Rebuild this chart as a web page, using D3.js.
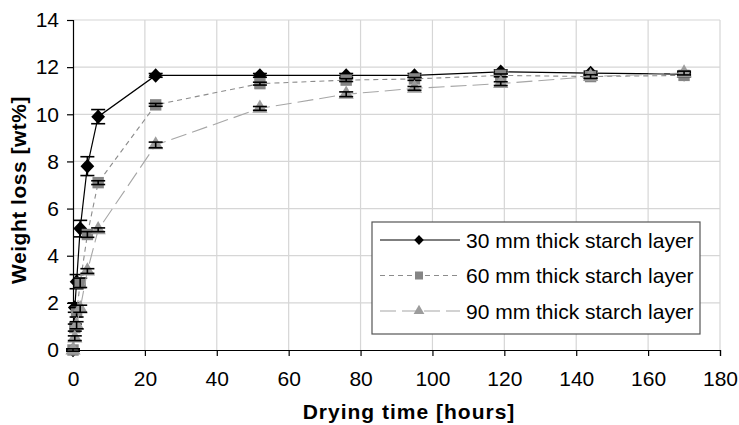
<!DOCTYPE html>
<html>
<head>
<meta charset="utf-8">
<script src="https://cdn.jsdelivr.net/npm/d3@7"></script>
<style>
  html, body { margin: 0; padding: 0; background: #fff; }
  svg { display: block; }
  text { font-family: "Liberation Sans", Arial, sans-serif; }
</style>
</head>
<body>
<svg id="chart" width="739" height="425"></svg>
<script>
// ---- data ----
const times = [0, 0.5, 1, 2, 4, 7, 23, 52, 76, 95, 119, 144, 170];
const series30 = [0, 1.8, 2.9, 5.15, 7.8, 9.9, 11.65, 11.65, 11.65, 11.65, 11.8, 11.75, 11.7];
const series60 = [0, 0.95, 1.6, 2.85, 4.9, 7.1, 10.4, 11.3, 11.45, 11.5, 11.65, 11.6, 11.65];
const series90 = [0, 0.5, 1.05, 1.75, 3.35, 5.1, 8.7, 10.25, 10.85, 11.1, 11.3, 11.6, 11.75];
const err30 = [0.05, 0.2, 0.3, 0.35, 0.4, 0.3, 0.08, 0.08, 0.08, 0.08, 0.08, 0.08, 0.08];
const err60 = [0.05, 0.15, 0.2, 0.2, 0.12, 0.08, 0.06, 0.06, 0.06, 0.06, 0.06, 0.06, 0.06];
const err90 = [0.05, 0.1, 0.15, 0.15, 0.1, 0.08, 0.12, 0.08, 0.1, 0.08, 0.08, 0.08, 0.08];
const seriesNames = ["30 mm thick starch layer", "60 mm thick starch layer", "90 mm thick starch layer"];
const xTicks = [0, 20, 40, 60, 80, 100, 120, 140, 160, 180];
const yTicks = [0, 2, 4, 6, 8, 10, 12, 14];
const xTitle = "Drying time [hours]";
const yTitle = "Weight loss [wt%]";

// ---- setup ----
const svg = d3.select("#chart");
const x = d3.scaleLinear().domain([0, 180]).range([73, 720]);
const y = d3.scaleLinear().domain([0, 14]).range([350, 20]);

// square-ish diamond symbol
const squareDiamond = {
  draw(ctx, size) {
    const r = Math.sqrt(size / 2);
    ctx.moveTo(0, -r); ctx.lineTo(r * 0.95, 0); ctx.lineTo(0, r); ctx.lineTo(-r * 0.95, 0); ctx.closePath();
  }
};

const styles = [
  { stroke: "#000000", dash: null, fill: "#000000", shape: squareDiamond, size: 105, lsize: 50, lw: 1.2 },
  { stroke: "#8c8c8c", dash: "5,4", fill: "#858585", shape: d3.symbolSquare, size: 130, lsize: 64, lw: 1.1 },
  { stroke: "#a6a6a6", dash: "16,6", fill: "#9c9c9c", shape: d3.symbolTriangle, size: 100, lsize: 50, lw: 1.1 }
];
const allSeries = [series30, series60, series90];
const allErr = [err30, err60, err90];

// gridlines
const grid = svg.append("g");
grid.selectAll("line.h").data(yTicks.slice(1)).enter().append("line")
  .attr("x1", x(0)).attr("x2", x(180))
  .attr("y1", d => y(d)).attr("y2", d => y(d))
  .attr("stroke", "#d6d6d6").attr("stroke-width", 1.2);
grid.selectAll("line.v").data(xTicks.slice(1)).enter().append("line")
  .attr("x1", d => x(d)).attr("x2", d => x(d))
  .attr("y1", y(14)).attr("y2", y(0))
  .attr("stroke", "#d6d6d6").attr("stroke-width", 1.2);

// axes
const xAxis = d3.axisBottom(x).tickValues(xTicks).tickSize(6).tickPadding(8).tickFormat(d3.format("d"));
const yAxis = d3.axisLeft(y).tickValues(yTicks).tickSize(6).tickPadding(8).tickFormat(d3.format("d"));
const gx = svg.append("g").attr("transform", `translate(0,${y(0)})`).call(xAxis);
const gy = svg.append("g").attr("transform", `translate(${x(0)},0)`).call(yAxis);
[gx, gy].forEach(g => {
  g.select(".domain").attr("stroke", "#000").attr("stroke-width", 1.2);
  g.selectAll(".tick line").attr("stroke", "#000").attr("stroke-width", 1.2);
  g.selectAll(".tick text").attr("fill", "#000").style("font-size", "21px")
   .style("font-family", "'Liberation Sans', Arial, sans-serif");
});
gy.selectAll(".tick text").attr("x", -14);
gx.selectAll(".tick text").attr("y", 21);

// series
allSeries.forEach((vals, si) => {
  const st = styles[si];
  const pts = times.map((t, i) => ({ t, v: vals[i], e: allErr[si][i] }));
  const line = d3.line().x(d => x(d.t)).y(d => y(d.v));
  svg.append("path").datum(pts)
    .attr("d", line).attr("fill", "none")
    .attr("stroke", st.stroke).attr("stroke-width", st.lw)
    .attr("stroke-dasharray", st.dash);
  const sym = d3.symbol().type(st.shape).size(st.size);
  svg.append("g").selectAll("path").data(pts).enter().append("path")
    .attr("d", sym)
    .attr("transform", d => `translate(${x(d.t)},${y(d.v)})`)
    .attr("fill", st.fill);
  const eb = svg.append("g").attr("stroke", "#000").attr("stroke-width", 1.6);
  pts.forEach(d => {
    if (d.e <= 0) return;
    eb.append("line").attr("x1", x(d.t)).attr("x2", x(d.t))
      .attr("y1", y(d.v - d.e)).attr("y2", y(d.v + d.e));
    [d.v - d.e, d.v + d.e].forEach(v => {
      eb.append("line").attr("x1", x(d.t) - 7).attr("x2", x(d.t) + 7)
        .attr("y1", y(v)).attr("y2", y(v));
    });
  });
});

// axis titles
svg.append("text").attr("x", 409).attr("y", 419)
  .attr("text-anchor", "middle").style("font-size", "21px").style("font-weight", "bold")
  .style("letter-spacing", "1px").text(xTitle);
svg.append("text").attr("transform", "translate(26,190) rotate(-90)")
  .attr("text-anchor", "middle").style("font-size", "21px").style("font-weight", "bold")
  .style("letter-spacing", "0.5px").text(yTitle);

// legend
const lg = svg.append("g");
const defs = svg.append("defs");
defs.append("clipPath").attr("id", "legclip").append("rect")
  .attr("x", 372).attr("y", 222).attr("width", 328).attr("height", 112);
lg.append("rect").attr("x", 372).attr("y", 222).attr("width", 328).attr("height", 112)
  .attr("fill", "#fff").attr("stroke", "#555").attr("stroke-width", 1.2);
const rowY = [240, 275.5, 311];
seriesNames.forEach((name, i) => {
  const st = styles[i];
  lg.append("line").attr("x1", 380).attr("x2", 460).attr("y1", rowY[i]).attr("y2", rowY[i])
    .attr("stroke", st.stroke).attr("stroke-width", st.lw).attr("stroke-dasharray", st.dash);
  lg.append("path").attr("d", d3.symbol().type(st.shape).size(st.lsize))
    .attr("transform", `translate(419,${rowY[i]})`).attr("fill", st.fill);
  lg.append("text").attr("x", 466).attr("y", rowY[i]).attr("dy", "0.36em")
    .attr("clip-path", "url(#legclip)")
    .style("font-size", "21px").text(name);
});
</script>
</body>
</html>
